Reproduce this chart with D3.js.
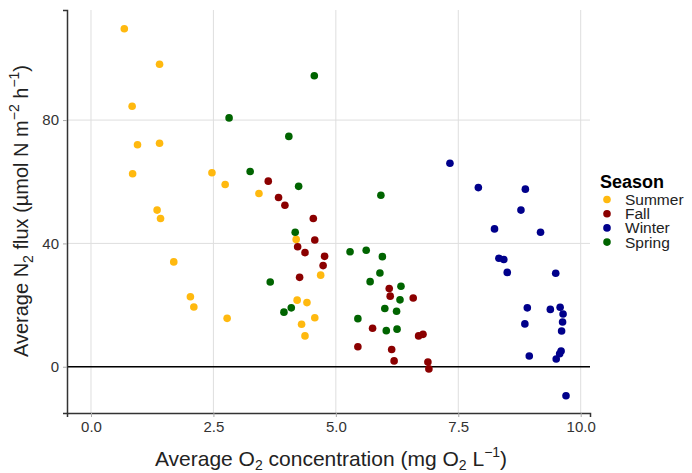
<!DOCTYPE html>
<html>
<head>
<meta charset="utf-8">
<script src="https://cdn.jsdelivr.net/npm/d3@7"></script>
<style>
  body { margin: 0; background: #fff; }
  text { font-family: "Liberation Sans", Arial, sans-serif; }
</style>
</head>
<body>
<svg id="chart" width="692" height="473"></svg>
<script>
// Season groups, legend order
const seasons = ["Summer", "Fall", "Winter", "Spring"];
const seasonColors = ["#FFB90F", "#8B0000", "#00008B", "#006400"];

// Average O2 (mg/L) and average N2 flux per season
const summerO2 = [0.68, 1.40, 0.84, 0.95, 1.40, 0.85, 2.47, 2.74, 3.43, 1.35, 1.42, 4.19, 4.69, 1.69, 4.21, 4.41, 2.03, 2.10, 4.57, 2.78, 4.30, 4.37];
const summerN2 = [109.6, 98.1, 84.5, 72.0, 72.5, 62.6, 62.9, 59.1, 56.2, 50.8, 48.1, 41.3, 29.7, 34.0, 21.6, 20.8, 22.7, 19.4, 15.9, 15.7, 13.8, 10.0];

const fallO2 = [3.62, 3.83, 3.96, 4.54, 4.57, 4.22, 4.37, 4.77, 4.74, 4.26, 6.09, 6.11, 6.58, 5.75, 6.69, 6.78, 5.45, 6.14, 6.19, 6.88, 6.90];
const fallN2 = [60.2, 54.9, 52.4, 48.1, 41.1, 38.9, 37.0, 35.8, 32.8, 29.0, 25.4, 22.9, 22.3, 12.5, 10.0, 10.5, 6.5, 5.6, 1.9, 1.5, -0.7];

const winterO2 = [7.33, 7.91, 8.87, 8.78, 8.24, 9.18, 8.33, 8.43, 8.50, 9.49, 8.91, 9.38, 9.58, 9.64, 8.86, 9.63, 9.61, 8.95, 9.60, 9.57, 9.50, 9.70];
const winterN2 = [66.0, 58.1, 57.6, 50.8, 44.7, 43.6, 35.2, 34.8, 30.6, 30.3, 19.1, 18.6, 19.3, 17.1, 13.9, 14.5, 11.6, 3.5, 5.1, 4.2, 2.5, -9.4];

const springO2 = [4.56, 2.82, 4.04, 3.25, 4.24, 5.92, 4.17, 3.66, 4.09, 3.94, 5.29, 5.62, 5.95, 5.90, 5.70, 6.33, 6.31, 6.00, 6.24, 5.45, 6.03, 6.25];
const springN2 = [94.4, 80.7, 74.7, 63.3, 58.5, 55.6, 43.6, 27.5, 19.1, 17.7, 37.3, 37.8, 35.7, 30.4, 27.6, 26.1, 21.7, 18.9, 18.0, 15.6, 11.7, 12.2];

const xTicks = [0, 2.5, 5, 7.5, 10];
const yTicks = [0, 40, 80];

const seriesO2 = [summerO2, fallO2, winterO2, springO2];
const seriesN2 = [summerN2, fallN2, winterN2, springN2];

const points = [];
seasons.forEach((s, i) => {
  seriesO2[i].forEach((o, j) => points.push({ season: s, x: o, y: seriesN2[i][j] }));
});

const svg = d3.select("#chart");
const panel = { left: 67, right: 590, top: 10, bottom: 413 };

const x = d3.scaleLinear().domain([-0.49, 10.19]).range([panel.left, panel.right]);
const y = d3.scaleLinear().domain([-15, 115.7]).range([panel.bottom, panel.top]);
const color = d3.scaleOrdinal().domain(seasons).range(seasonColors);

// grid
svg.append("g")
  .selectAll("line")
  .data(xTicks)
  .join("line")
  .attr("x1", d => x(d)).attr("x2", d => x(d))
  .attr("y1", panel.top).attr("y2", panel.bottom)
  .attr("stroke", "#dedede").attr("stroke-width", 1);
svg.append("g")
  .selectAll("line")
  .data(yTicks)
  .join("line")
  .attr("x1", panel.left).attr("x2", panel.right)
  .attr("y1", d => y(d)).attr("y2", d => y(d))
  .attr("stroke", "#dedede").attr("stroke-width", 1);

// zero line
svg.append("line")
  .attr("x1", panel.left).attr("x2", panel.right)
  .attr("y1", y(0)).attr("y2", y(0))
  .attr("stroke", "#000").attr("stroke-width", 1.5);

// axes
const xAxis = svg.append("g")
  .attr("transform", `translate(0,${panel.bottom})`)
  .call(d3.axisBottom(x).tickValues(xTicks).tickFormat(d3.format(".1f")).tickSizeOuter(0).tickSize(4).tickPadding(4));
const yAxis = svg.append("g")
  .attr("transform", `translate(${panel.left},0)`)
  .call(d3.axisLeft(y).tickValues(yTicks).tickSizeOuter(0).tickSize(4).tickPadding(4));

[xAxis, yAxis].forEach(g => {
  g.select(".domain").attr("stroke", "#333").attr("stroke-width", 1.5);
  g.selectAll(".tick line").attr("stroke", "#aaa");
  g.selectAll(".tick text").attr("fill", "#333").attr("font-size", 15)
    .attr("font-family", "Liberation Sans, Arial, sans-serif");
});

// points
svg.append("g")
  .selectAll("circle")
  .data(points)
  .join("circle")
  .attr("cx", d => x(d.x))
  .attr("cy", d => y(d.y))
  .attr("r", 3.8)
  .attr("fill", d => color(d.season));

// axis titles
const xt = svg.append("text")
  .attr("x", 331).attr("y", 466)
  .attr("text-anchor", "middle")
  .attr("font-size", 21).attr("fill", "#222");
xt.append("tspan").text("Average O");
xt.append("tspan").attr("font-size", 14).attr("dy", 4).text("2");
xt.append("tspan").attr("dy", -4).text(" concentration (mg O");
xt.append("tspan").attr("font-size", 14).attr("dy", 4).text("2");
xt.append("tspan").attr("dy", -4).text(" L");
xt.append("tspan").attr("font-size", 14).attr("dy", -9).text("\u22121");
xt.append("tspan").attr("dy", 9).text(")");

const yt = svg.append("text")
  .attr("transform", "translate(28,211) rotate(-90)")
  .attr("text-anchor", "middle")
  .attr("font-size", 20).attr("fill", "#222");
yt.append("tspan").text("Average N");
yt.append("tspan").attr("font-size", 14).attr("dy", 5).text("2");
yt.append("tspan").attr("dy", -5).text(" flux (\u00b5mol N m");
yt.append("tspan").attr("font-size", 14).attr("dy", -9).text("\u22122");
yt.append("tspan").attr("dy", 9).text(" h");
yt.append("tspan").attr("font-size", 14).attr("dy", -9).text("\u22121");
yt.append("tspan").attr("dy", 9).text(")");

// legend
const legend = svg.append("g");
legend.append("text")
  .attr("x", 600).attr("y", 188)
  .attr("font-size", 18).attr("font-weight", "bold").attr("fill", "#000")
  .text("Season");
const items = legend.selectAll("g.item")
  .data(seasons)
  .join("g")
  .attr("class", "item")
  .attr("transform", (d, i) => `translate(0,${199.5 + i * 14.2})`);
items.append("circle").attr("cx", 607).attr("cy", 0).attr("r", 3.8).attr("fill", d => color(d));
items.append("text").attr("x", 625).attr("y", 5.5).attr("font-size", 15.5).attr("fill", "#222").text(d => d);
</script>
</body>
</html>
